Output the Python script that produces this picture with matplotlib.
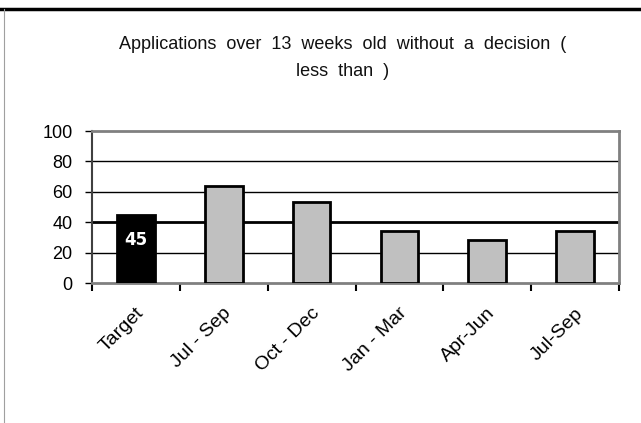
import numpy as np
import matplotlib.pyplot as plt
import matplotlib.transforms as mtransforms

categories = ['Target', 'Jul - Sep', 'Oct - Dec', 'Jan - Mar', 'Apr-Jun', 'Jul-Sep']
values = [45, 64, 53, 34, 28, 34]
bar_colors = ['black', '#c0c0c0', '#c0c0c0', '#c0c0c0', '#c0c0c0', '#c0c0c0']
title = 'Applications  over  13  weeks  old  without  a  decision  (\nless  than  )'

plt.rcParams['font.family'] = ['Liberation Sans', 'DejaVu Sans']

fig = plt.figure(figsize=(6.41, 4.23), dpi=100)
ax = fig.add_axes([92 / 641, 1 - 283 / 423, (619 - 92) / 641, (283 - 131) / 423])

x = np.arange(len(categories))
ax.set_xlim(-0.5, len(categories) - 0.5)
ax.set_ylim(0, 100)

# gridlines (the 40 one is drawn heavier in the original)
for yv in [20, 40, 60, 80]:
    ax.axhline(yv, color='black', lw=2.0 if yv == 40 else 1.0, zorder=1)

ax.bar(x, values, width=0.43, color=bar_colors, edgecolor='black', linewidth=2, zorder=3)
ax.text(x[0], 28, str(values[0]), color='white', fontsize=12, fontweight='bold',
        ha='center', va='center', family='DejaVu Sans', zorder=4)

for side in ['top', 'right', 'bottom']:
    ax.spines[side].set_color('#808080')
    ax.spines[side].set_linewidth(2)
ax.spines['left'].set_color('#404040')
ax.spines['left'].set_linewidth(1.5)

ax.set_yticks([0, 20, 40, 60, 80, 100])
ax.tick_params(axis='y', labelsize=13, length=5, width=1, color='black', pad=9)

# category labels at centres, tick marks at the slot boundaries
ax.set_xticks(x)
ax.set_xticklabels(categories, rotation=45, ha='right', va='center',
                   rotation_mode='anchor', fontsize=14)
ax.tick_params(axis='x', which='major', length=0, pad=20)
shift = mtransforms.ScaledTranslation(5 / 100, 0, fig.dpi_scale_trans)
for lab in ax.get_xticklabels():
    lab.set_transform(lab.get_transform() + shift)
ax.set_xticks(np.arange(-0.5, len(categories)), minor=True)
ax.tick_params(axis='x', which='minor', length=6, width=1.5, color='black')

fig.text(343 / 641, 1 - 58 / 423, title, ha='center', va='center', fontsize=13,
         linespacing=1.75, color='#111111')

# frame of the original picture: black line on top, thin grey on the left
fig.add_artist(plt.Line2D([0, 1], [1 - 9 / 423, 1 - 9 / 423], color='black', lw=2.5,
                          transform=fig.transFigure))
fig.add_artist(plt.Line2D([3.5 / 641, 3.5 / 641], [0, 1 - 9 / 423], color='#a0a0a0', lw=0.8,
                          transform=fig.transFigure))

fig.savefig('out.png', dpi=100)
